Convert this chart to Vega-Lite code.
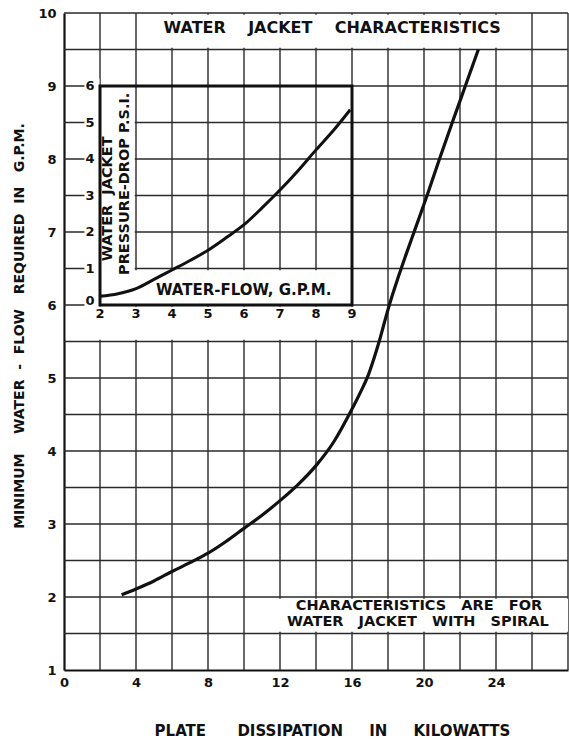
{
  "$schema": "https://vega.github.io/schema/vega-lite/v6.json",
  "width": 504,
  "height": 657,
  "autosize": "none",
  "padding": {"left": 64, "top": 13, "right": 1, "bottom": 71},
  "background": "white",
  "config": {
    "view": {"stroke": null},
    "axis": {
      "grid": false,
      "domain": true, "domainColor": "#111", "domainWidth": 2.2,
      "ticks": false, "tickSize": 0,
      "labelFont": "DejaVu Sans", "labelFontSize": 13, "labelFontWeight": "bold", "labelColor": "#111",
      "labelFlush": false, "labelOverlap": false, "labelBound": false,
      "titleFont": "DejaVu Sans", "titleFontWeight": "bold", "titleColor": "#111"
    },
    "text": {"font": "DejaVu Sans", "fontWeight": "bold", "color": "#111"}
  },
  "datasets": {
    "dissipation": [
      {"kw": 3.2, "gpm": 2.03},
      {"kw": 4, "gpm": 2.11},
      {"kw": 5, "gpm": 2.22},
      {"kw": 6, "gpm": 2.35},
      {"kw": 7, "gpm": 2.47},
      {"kw": 8, "gpm": 2.6},
      {"kw": 9, "gpm": 2.76},
      {"kw": 10, "gpm": 2.94},
      {"kw": 11, "gpm": 3.12},
      {"kw": 12, "gpm": 3.32},
      {"kw": 13, "gpm": 3.54},
      {"kw": 14, "gpm": 3.8},
      {"kw": 15, "gpm": 4.13},
      {"kw": 15.95, "gpm": 4.55},
      {"kw": 16.5, "gpm": 4.82},
      {"kw": 16.92, "gpm": 5.05},
      {"kw": 17.25, "gpm": 5.29},
      {"kw": 17.52, "gpm": 5.51},
      {"kw": 17.8, "gpm": 5.76},
      {"kw": 18.05, "gpm": 5.98},
      {"kw": 18.5, "gpm": 6.33},
      {"kw": 19.0, "gpm": 6.69},
      {"kw": 19.55, "gpm": 7.07},
      {"kw": 20.2, "gpm": 7.52},
      {"kw": 20.86, "gpm": 8.0},
      {"kw": 21.6, "gpm": 8.52},
      {"kw": 22.34, "gpm": 9.03},
      {"kw": 23.02, "gpm": 9.5}
    ],
    "pressure": [
      {"flow": 2.0, "psi": 0.24},
      {"flow": 2.5, "psi": 0.31},
      {"flow": 3.0, "psi": 0.45},
      {"flow": 3.5, "psi": 0.7},
      {"flow": 4.0, "psi": 0.96},
      {"flow": 4.5, "psi": 1.22},
      {"flow": 5.0, "psi": 1.5},
      {"flow": 5.5, "psi": 1.84},
      {"flow": 6.0, "psi": 2.2},
      {"flow": 6.5, "psi": 2.66},
      {"flow": 7.0, "psi": 3.15},
      {"flow": 7.5, "psi": 3.68},
      {"flow": 8.0, "psi": 4.25},
      {"flow": 8.5, "psi": 4.8},
      {"flow": 8.95, "psi": 5.35}
    ],
    "kwGrid": [
      {"kw": 2}, {"kw": 4}, {"kw": 6}, {"kw": 8}, {"kw": 10}, {"kw": 12}, {"kw": 14},
      {"kw": 16}, {"kw": 18}, {"kw": 20}, {"kw": 22}, {"kw": 24}, {"kw": 26}, {"kw": 28}
    ],
    "gpmGrid": [
      {"gpm": 1.5}, {"gpm": 2}, {"gpm": 2.5}, {"gpm": 3}, {"gpm": 3.5}, {"gpm": 4}, {"gpm": 4.5},
      {"gpm": 5}, {"gpm": 5.5}, {"gpm": 6}, {"gpm": 6.5}, {"gpm": 7}, {"gpm": 7.5}, {"gpm": 8},
      {"gpm": 8.5}, {"gpm": 9}, {"gpm": 9.5}, {"gpm": 10}
    ],
    "psiTicks": [
      {"psi": 0}, {"psi": 1}, {"psi": 2}, {"psi": 3}, {"psi": 4}, {"psi": 5}, {"psi": 6}
    ],
    "flowTicks": [
      {"flow": 2}, {"flow": 3}, {"flow": 4}, {"flow": 5}, {"flow": 6}, {"flow": 7}, {"flow": 8}, {"flow": 9}
    ]
  },
  "resolve": {"scale": {"x": "independent", "y": "independent"}},
  "layer": [
    {
      "layer": [
        {
          "data": {"name": "kwGrid"},
          "mark": {"type": "rule", "color": "#2a2a2a", "strokeWidth": 1.4},
          "encoding": {
            "x": {"field": "kw", "type": "quantitative", "scale": {"domain": [0, 28], "nice": false, "zero": false}}
          }
        },
        {
          "data": {"name": "gpmGrid"},
          "mark": {"type": "rule", "color": "#2a2a2a", "strokeWidth": 1.4},
          "encoding": {
            "y": {"field": "gpm", "type": "quantitative", "scale": {"domain": [1, 10], "nice": false, "zero": false}}
          }
        },
        {
          "data": {"name": "dissipation"},
          "mark": {"type": "line", "color": "#111", "strokeWidth": 3.2, "interpolate": "monotone", "strokeCap": "butt"},
          "encoding": {
            "x": {
              "field": "kw", "type": "quantitative",
              "scale": {"domain": [0, 28], "nice": false, "zero": false},
              "axis": {
                "values": [0, 4, 8, 12, 16, 20, 24],
                "format": "d",
                "grid": false,
                "labelPadding": 6,
                "title": "PLATE\u00a0\u00a0\u00a0\u00a0\u00a0\u00a0DISSIPATION\u00a0\u00a0\u00a0\u00a0\u00a0IN\u00a0\u00a0\u00a0\u00a0\u00a0KILOWATTS",
                "titleFontSize": 15,
                "titleX": 268, "titleY": 60, "titleAlign": "center", "titleBaseline": "middle", "titleAngle": 0
              }
            },
            "y": {
              "field": "gpm", "type": "quantitative",
              "scale": {"domain": [1, 10], "nice": false, "zero": false},
              "axis": {
                "values": [1, 2, 3, 4, 5, 6, 7, 8, 9, 10],
                "format": "d",
                "grid": false,
                "labelPadding": 8,
                "title": "MINIMUM\u00a0\u00a0\u00a0\u00a0WATER\u00a0\u00a0-\u00a0\u00a0FLOW\u00a0\u00a0\u00a0REQUIRED\u00a0\u00a0IN\u00a0\u00a0\u00a0G.P.M.",
                "titleFontSize": 14,
                "titleX": -45, "titleY": 312.5, "titleAlign": "center", "titleBaseline": "middle", "titleAngle": 270
              }
            }
          }
        },
        {
          "data": {"values": [{}]},
          "mark": {"type": "rect", "color": "white", "strokeWidth": 0},
          "encoding": {
            "x": {"datum": 4.07, "type": "quantitative", "scale": {"domain": [0, 28], "nice": false, "zero": false}},
            "x2": {"datum": 25.93},
            "y": {"datum": 9.525, "type": "quantitative", "scale": {"domain": [1, 10], "nice": false, "zero": false}},
            "y2": {"datum": 9.975}
          }
        },
        {
          "data": {"values": [{}]},
          "mark": {"type": "rect", "color": "white", "strokeWidth": 0},
          "encoding": {
            "x": {"datum": 11.55, "type": "quantitative", "scale": {"domain": [0, 28], "nice": false, "zero": false}},
            "x2": {"datum": 28},
            "y": {"datum": 1.525, "type": "quantitative", "scale": {"domain": [1, 10], "nice": false, "zero": false}},
            "y2": {"datum": 1.975}
          }
        },
        {
          "data": {"values": [{}]},
          "mark": {"type": "rect", "color": "white", "strokeWidth": 0},
          "encoding": {
            "x": {"datum": 0.1, "type": "quantitative", "scale": {"domain": [0, 28], "nice": false, "zero": false}},
            "x2": {"datum": 16.6},
            "y": {"datum": 5.525, "type": "quantitative", "scale": {"domain": [1, 10], "nice": false, "zero": false}},
            "y2": {"datum": 5.975}
          }
        },
        {
          "data": {"values": [{}]},
          "mark": {"type": "rect", "color": "white", "strokeWidth": 0},
          "encoding": {
            "x": {"datum": 2.05, "type": "quantitative", "scale": {"domain": [0, 28], "nice": false, "zero": false}},
            "x2": {"datum": 3.93},
            "y": {"datum": 6.0, "type": "quantitative", "scale": {"domain": [1, 10], "nice": false, "zero": false}},
            "y2": {"datum": 8.985}
          }
        },
        {
          "data": {"values": [{}]},
          "mark": {"type": "rect", "color": "white", "strokeWidth": 0},
          "encoding": {
            "x": {"datum": 2.05, "type": "quantitative", "scale": {"domain": [0, 28], "nice": false, "zero": false}},
            "x2": {"datum": 15.95},
            "y": {"datum": 6.0, "type": "quantitative", "scale": {"domain": [1, 10], "nice": false, "zero": false}},
            "y2": {"datum": 6.475}
          }
        },
        {
          "data": {"values": [{}]},
          "mark": {"type": "text", "text": "WATER\u00a0\u00a0\u00a0\u00a0JACKET\u00a0\u00a0\u00a0\u00a0CHARACTERISTICS", "fontSize": 16, "align": "center", "baseline": "middle"},
          "encoding": {
            "x": {"datum": 14.9, "type": "quantitative", "scale": {"domain": [0, 28], "nice": false, "zero": false}},
            "y": {"datum": 9.8, "type": "quantitative", "scale": {"domain": [1, 10], "nice": false, "zero": false}}
          }
        },
        {
          "data": {"values": [{}]},
          "mark": {"type": "text", "text": "CHARACTERISTICS\u00a0\u00a0\u00a0ARE\u00a0\u00a0\u00a0FOR", "fontSize": 14.5, "align": "center", "baseline": "middle"},
          "encoding": {
            "x": {"datum": 19.72, "type": "quantitative", "scale": {"domain": [0, 28], "nice": false, "zero": false}},
            "y": {"datum": 1.882, "type": "quantitative", "scale": {"domain": [1, 10], "nice": false, "zero": false}}
          }
        },
        {
          "data": {"values": [{}]},
          "mark": {"type": "text", "text": "WATER\u00a0\u00a0\u00a0JACKET\u00a0\u00a0\u00a0WITH\u00a0\u00a0\u00a0SPIRAL", "fontSize": 14.5, "align": "center", "baseline": "middle"},
          "encoding": {
            "x": {"datum": 19.66, "type": "quantitative", "scale": {"domain": [0, 28], "nice": false, "zero": false}},
            "y": {"datum": 1.656, "type": "quantitative", "scale": {"domain": [1, 10], "nice": false, "zero": false}}
          }
        }
      ]
    },
    {
      "layer": [
        {
          "data": {"name": "psiTicks"},
          "mark": {"type": "point", "shape": "square", "size": 225, "filled": true, "color": "white", "opacity": 1, "strokeWidth": 0},
          "encoding": {
            "x": {"datum": 1.776, "type": "quantitative", "scale": {"domain": [1, 15], "nice": false, "zero": false}, "axis": null},
            "y": {"field": "psi", "type": "quantitative", "scale": {"domain": [-10, 8], "nice": false, "zero": false}, "axis": null}
          }
        },
        {
          "data": {"values": [{}]},
          "mark": {"type": "rect", "filled": false, "stroke": "#111", "strokeWidth": 3},
          "encoding": {
            "x": {"datum": 2, "type": "quantitative", "scale": {"domain": [1, 15], "nice": false, "zero": false}, "axis": null},
            "x2": {"datum": 9},
            "y": {"datum": 0, "type": "quantitative", "scale": {"domain": [-10, 8], "nice": false, "zero": false}, "axis": null},
            "y2": {"datum": 6}
          }
        },
        {
          "data": {"name": "pressure"},
          "mark": {"type": "line", "color": "#111", "strokeWidth": 3, "interpolate": "monotone"},
          "encoding": {
            "x": {"field": "flow", "type": "quantitative", "scale": {"domain": [1, 15], "nice": false, "zero": false}, "axis": null},
            "y": {"field": "psi", "type": "quantitative", "scale": {"domain": [-10, 8], "nice": false, "zero": false}, "axis": null}
          }
        },
        {
          "data": {"name": "psiTicks"},
          "transform": [{"filter": "datum.psi > 0"}],
          "mark": {"type": "text", "fontSize": 13, "align": "center", "baseline": "middle"},
          "encoding": {
            "x": {"datum": 1.72, "type": "quantitative", "scale": {"domain": [1, 15], "nice": false, "zero": false}, "axis": null},
            "y": {"field": "psi", "type": "quantitative", "scale": {"domain": [-10, 8], "nice": false, "zero": false}, "axis": null},
            "text": {"field": "psi", "type": "quantitative"}
          }
        },
        {
          "data": {"name": "psiTicks"},
          "transform": [{"filter": "datum.psi == 0"}],
          "mark": {"type": "text", "fontSize": 13, "align": "center", "baseline": "middle", "dy": -4},
          "encoding": {
            "x": {"datum": 1.72, "type": "quantitative", "scale": {"domain": [1, 15], "nice": false, "zero": false}, "axis": null},
            "y": {"field": "psi", "type": "quantitative", "scale": {"domain": [-10, 8], "nice": false, "zero": false}, "axis": null},
            "text": {"field": "psi", "type": "quantitative"}
          }
        },
        {
          "data": {"name": "flowTicks"},
          "mark": {"type": "text", "fontSize": 13, "align": "center", "baseline": "middle"},
          "encoding": {
            "x": {"field": "flow", "type": "quantitative", "scale": {"domain": [1, 15], "nice": false, "zero": false}, "axis": null},
            "y": {"datum": -0.25, "type": "quantitative", "scale": {"domain": [-10, 8], "nice": false, "zero": false}, "axis": null},
            "text": {"field": "flow", "type": "quantitative"}
          }
        },
        {
          "data": {"values": [{}]},
          "mark": {"type": "text", "text": "WATER\u00a0\u00a0JACKET", "fontSize": 14.5, "align": "center", "baseline": "middle", "angle": 270},
          "encoding": {
            "x": {"datum": 2.23, "type": "quantitative", "scale": {"domain": [1, 15], "nice": false, "zero": false}, "axis": null},
            "y": {"datum": 2.91, "type": "quantitative", "scale": {"domain": [-10, 8], "nice": false, "zero": false}, "axis": null}
          }
        },
        {
          "data": {"values": [{}]},
          "mark": {"type": "text", "text": "PRESSURE-DROP\u00a0P.S.I.", "fontSize": 14.5, "align": "center", "baseline": "middle", "angle": 270},
          "encoding": {
            "x": {"datum": 2.7, "type": "quantitative", "scale": {"domain": [1, 15], "nice": false, "zero": false}, "axis": null},
            "y": {"datum": 3.32, "type": "quantitative", "scale": {"domain": [-10, 8], "nice": false, "zero": false}, "axis": null}
          }
        },
        {
          "data": {"values": [{}]},
          "mark": {"type": "text", "text": "WATER-FLOW,\u00a0G.P.M.", "fontSize": 15, "align": "center", "baseline": "middle"},
          "encoding": {
            "x": {"datum": 5.99, "type": "quantitative", "scale": {"domain": [1, 15], "nice": false, "zero": false}, "axis": null},
            "y": {"datum": 0.42, "type": "quantitative", "scale": {"domain": [-10, 8], "nice": false, "zero": false}, "axis": null}
          }
        }
      ]
    }
  ]
}
